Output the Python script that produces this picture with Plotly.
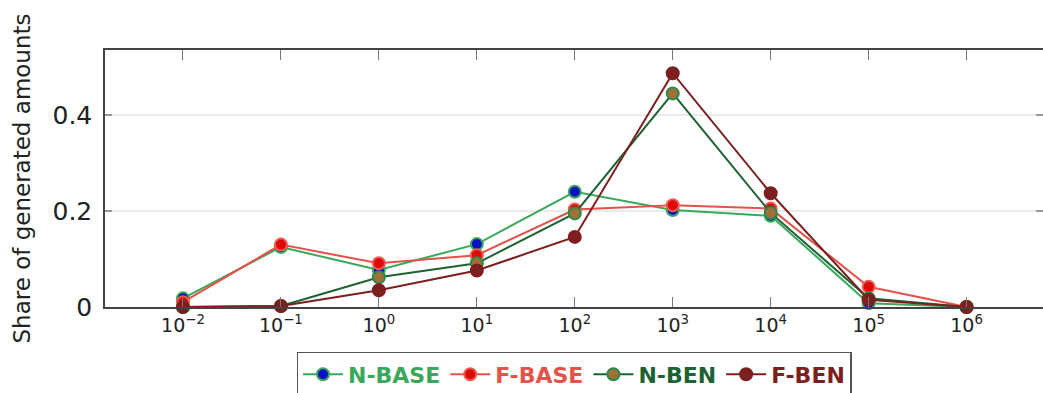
import plotly.graph_objects as go

bins = [1e-2, 1e-1, 1e0, 1e1, 1e2, 1e3, 1e4, 1e5, 1e6]
tick_labels = ["10<sup>−2</sup>", "10<sup>−1</sup>", "10<sup>0</sup>", "10<sup>1</sup>",
               "10<sup>2</sup>", "10<sup>3</sup>", "10<sup>4</sup>", "10<sup>5</sup>", "10<sup>6</sup>"]

n_base = [0.018, 0.125, 0.077, 0.131, 0.240, 0.202, 0.190, 0.008, 0.0]
f_base = [0.010, 0.130, 0.091, 0.108, 0.203, 0.212, 0.205, 0.042, 0.0]
n_ben = [0.0, 0.002, 0.062, 0.091, 0.195, 0.445, 0.196, 0.018, 0.0]
f_ben = [0.0, 0.002, 0.035, 0.076, 0.146, 0.487, 0.237, 0.015, 0.0]

series = [
    ("N-BASE", n_base, "#3aa85a", "#0a10c8", "#3aa85a"),
    ("F-BASE", f_base, "#e4524a", "#dd0a0a", "#ee5a50"),
    ("N-BEN", n_ben, "#1c6232", "#a0703a", "#2a8a48"),
    ("F-BEN", f_ben, "#7e1f1f", "#7e1f1f", "#7e1f1f"),
]

fig = go.Figure()
for name, vals, lc, mfill, mline in series:
    fig.add_trace(go.Scatter(
        x=bins, y=vals, mode="lines+markers",
        name=f"<b><span style='color:{lc}'>{name}</span></b>",
        line=dict(color=lc, width=2),
        marker=dict(size=12, color=mfill, line=dict(color=mline, width=2)),
        cliponaxis=False,
    ))

fig.update_layout(
    width=1043, height=393,
    margin=dict(l=105, r=0, t=50, b=86, autoexpand=False),
    paper_bgcolor="white", plot_bgcolor="white",
    font=dict(family="DejaVu Sans", color="#222"),
    showlegend=True,
    legend=dict(
        orientation="h", x=0.5, xanchor="center", y=-0.175, yanchor="top",
        bordercolor="#555", borderwidth=1.5, bgcolor="white",
        font=dict(size=22, family="DejaVu Sans"),
        itemwidth=40, tracegroupgap=0,
    ),
    xaxis=dict(
        type="log", range=[-2.796, 6.78], automargin=False,
        tickvals=bins, ticktext=tick_labels,
        ticks="inside", ticklen=10, tickcolor="#777", tickwidth=1,
        showgrid=False, zeroline=False,
        showline=True, linecolor="#444", linewidth=1.5, mirror="ticks",
        tickfont=dict(size=19, family="DejaVu Sans", color="#222"),
    ),
    yaxis=dict(
        range=[0, 0.5354], automargin=False,
        tickvals=[0, 0.2, 0.4], ticktext=["0", "0.2", "0.4"],
        ticks="inside", ticklen=7, tickcolor="#999", tickwidth=1.5,
        showgrid=True, gridcolor="#ebebeb", gridwidth=1.5,
        zeroline=False,
        showline=True, linecolor="#444", linewidth=1.5, mirror="ticks",
        tickfont=dict(size=25, family="DejaVu Sans", color="#222"),
        ticklabelstandoff=6,
    ),
    annotations=[dict(
        text="Share of generated amounts", textangle=-90,
        xref="paper", yref="paper", x=-0.0885, y=0.5,
        xanchor="center", yanchor="middle", showarrow=False,
        font=dict(size=23, family="DejaVu Sans", color="#222"),
    )],
)

fig.write_html("out.html", config={"displayModeBar": False},
               post_script="document.body.style.margin='0';")
